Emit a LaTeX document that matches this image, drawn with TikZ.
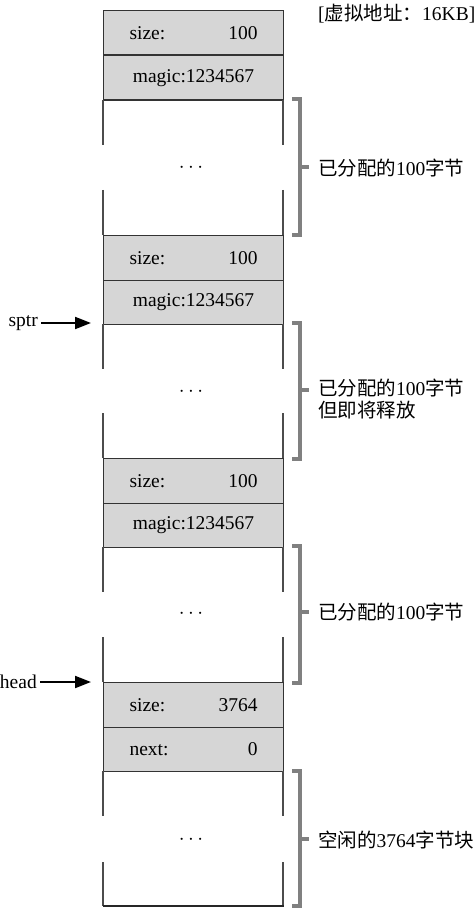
\documentclass[tikz,border=0pt]{standalone}
\usepackage{fontspec}
\setmainfont{Liberation Serif}
\newfontfamily\cjk{Noto Sans CJK SC}
\usetikzlibrary{arrows.meta}
\begin{document}
\begin{tikzpicture}[x=1pt,y=-1pt,
  font=\fontsize{19.5}{23}\selectfont,
  row/.style={draw=black!80, line width=1.1pt, fill=black!16, minimum width=180pt, minimum height=44.5pt, inner sep=0pt, anchor=north west},
  kv/.style={row, text width=128pt, align=left},
  side/.style={draw=black!70, line width=1.1pt},
  brk/.style={draw=black!50, line width=3.5pt},
  lbl/.style={anchor=west, inner sep=0pt, align=left},
  ptr/.style={-{Triangle[length=16pt,width=12pt]}, line width=2pt, shorten <=3pt},
  dots/.style={inner sep=0pt, font=\fontsize{22}{22}\selectfont}]
\useasboundingbox (0,0) rectangle (475,909);

% block 1
\node[kv] (s1) at (103,10) {size:\hfill 100};
\node[row] (m1) at (103,55) {magic:1234567};
\draw[side] (103,100) -- (103,145) (103,190) -- (103,235);
\draw[side] (283,100) -- (283,145) (283,190) -- (283,235);
\node[dots] (d1) at (191,168) {$\cdots$};

% block 2
\node[kv] (s2) at (103,235) {size:\hfill 100};
\node[row] (m2) at (103,279.5) {magic:1234567};
\draw[side] (103,324) -- (103,369) (103,413) -- (103,458);
\draw[side] (283,324) -- (283,369) (283,413) -- (283,458);
\node[dots] (d2) at (191,392) {$\cdots$};

% block 3
\node[kv] (s3) at (103,458) {size:\hfill 100};
\node[row] (m3) at (103,502.5) {magic:1234567};
\draw[side] (103,547) -- (103,592) (103,637) -- (103,682);
\draw[side] (283,547) -- (283,592) (283,637) -- (283,682);
\node[dots] (d3) at (191,614) {$\cdots$};

% block 4
\node[kv] (s4) at (103,682) {size:\hfill 3764};
\node[kv] (n4) at (103,726.5) {next:\hfill 0};
\draw[side] (103,771) -- (103,816) (103,862) -- (103,906);
\draw[side] (283,771) -- (283,816) (283,862) -- (283,906);
\draw[draw=black!85, line width=1.3pt] (102.5,906) -- (283.5,906);
\node[dots] (d4) at (191,840) {$\cdots$};

% brackets
\draw[brk] (292,99) -- (300,99) -- (300,235) -- (292,235);
\draw[brk] (300,167) -- (309,167);
\draw[brk] (292,323) -- (300,323) -- (300,459) -- (292,459);
\draw[brk] (300,390) -- (309,390);
\draw[brk] (292,546) -- (300,546) -- (300,683) -- (292,683);
\draw[brk] (300,612) -- (309,612);
\draw[brk] (292,771) -- (300,771) -- (300,906) -- (292,906);
\draw[brk] (300,839) -- (309,839);

% labels
\node[lbl] (t0) at (318,14) {[{\cjk 虚拟地址：}16KB]};
\node[lbl] (t1) at (318,168) {{\cjk 已分配的}100{\cjk 字节}};
\node[lbl, anchor=north west] (t2) at (318,379) {{\cjk 已分配的}100{\cjk 字节}\\[-1pt]{\cjk 但即将释放}};
\node[lbl] (t3) at (318,612) {{\cjk 已分配的}100{\cjk 字节}};
\node[lbl] (t4) at (318,840) {{\cjk 空闲的}3764{\cjk 字节块}};

% pointers
\node[anchor=east, inner sep=0pt] (sptr) at (38,323) {sptr};
\coordinate (sp) at (91,323);
\draw[ptr] (sptr) -- (sp);
\node[anchor=east, inner sep=0pt] (head) at (37,682) {head};
\coordinate (hp) at (91,682);
\draw[ptr] (head) -- (hp);
\end{tikzpicture}
\end{document}
